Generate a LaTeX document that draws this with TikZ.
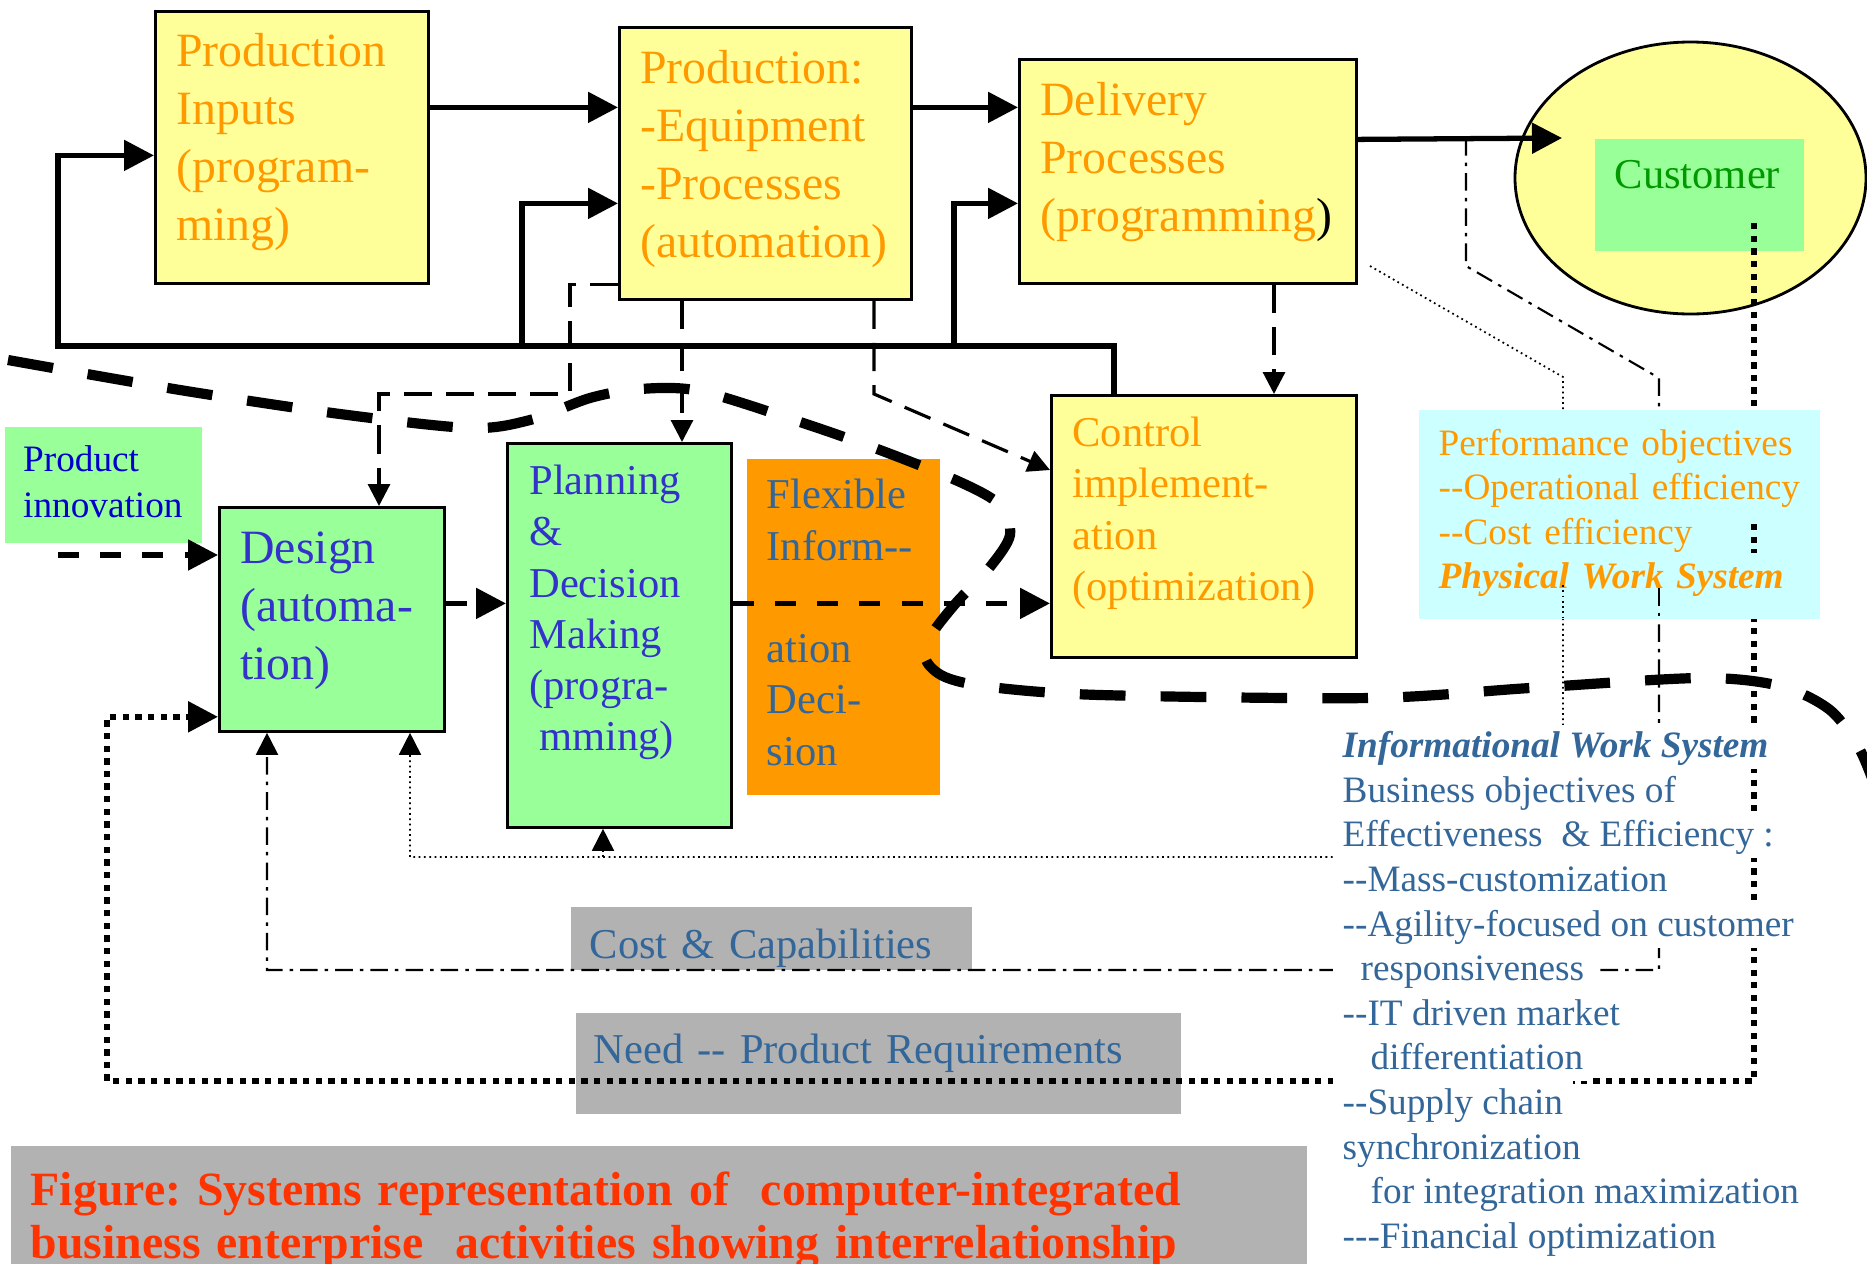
\documentclass[tikz,border=0pt]{standalone}
\usepackage{fontspec}
\newfontfamily\tnr{Liberation Serif}
\usepackage{tikz}
\usetikzlibrary{shapes.geometric}
\usetikzlibrary{arrows.meta, calc}
\usetikzlibrary{positioning}
\definecolor{boxyellow}{HTML}{FFFF99}
\definecolor{boxgreen}{HTML}{99FF99}
\definecolor{boxcyan}{HTML}{CCFFFF}
\definecolor{boxorange}{HTML}{FF9900}
\definecolor{boxgray}{HTML}{B2B2B2}
\definecolor{txtorange}{HTML}{FF9900}
\definecolor{txtblue}{HTML}{3333CC}
\definecolor{txtnavy}{HTML}{0000CC}
\definecolor{txtsteel}{HTML}{336699}
\definecolor{txtgreen}{HTML}{009900}
\definecolor{txtred}{HTML}{FF3300}
\frenchspacing

\begin{document}
\begin{tikzpicture}[
  flat/.style={align=left, inner ysep=0pt, anchor=north west},
  box/.style={flat, draw=black, line width=0.8pt},
  ybox/.style={box, fill=boxyellow, text=txtorange},
  gbox/.style={box, fill=boxgreen, text=txtblue},
  fbig/.style={font=\tnr\fontsize{13.6}{16.5}\selectfont},
  fmid/.style={font=\tnr\fontsize{12.1}{14.6}\selectfont},
  infoline/.style={anchor=base west, fill=white, text=txtsteel,
    font=\tnr\fontsize{10.6}{12.6}\selectfont, inner xsep=0.1cm, inner ysep=0pt,
    text height=0.33cm, text depth=0.115cm},
  thickline/.style={line width=1.5pt},
  dashline/.style={line width=1.5pt, dash pattern=on 6pt off 6pt},
  needline/.style={line width=1.6pt, dash pattern=on 1.8pt off 1.8pt},
  medline/.style={line width=0.9pt, dash pattern=on 8pt off 4pt},
  costline/.style={line width=0.6pt, dash pattern=on 5pt off 2pt on 1pt off 2pt},
  capline/.style={line width=0.5pt, dash pattern=on 0.5pt off 1pt},
  bigdash/.style={line width=2.9pt, dash pattern=on 13pt off 10pt},
  bigtip/.style={-{Triangle[length=3mm, width=3mm]}},
  smalltip/.style={-{Triangle[length=2.2mm, width=2.2mm]}}
]
\useasboundingbox (0,0) rectangle (18.67,-12.64);

% --- Blocchi ---
\node[ybox, fbig, text width=2.31cm, inner xsep=0.21cm, text height=0.555cm, text depth=2.165cm]
  (inputs) at (1.54,-0.10) {Production\\Inputs\\(program-\\ming)};
\node[ybox, fbig, text width=2.50cm, inner xsep=0.21cm, text height=0.56cm, text depth=2.16cm]
  (prod) at (6.18,-0.26) {Production:\\-Equipment\\-Processes\\(automation)};
\node[ybox, fbig, text width=2.95cm, inner xsep=0.21cm, text height=0.56cm, text depth=1.68cm]
  (dlv) at (10.18,-0.58) {Delivery\\Processes\\(programming\textcolor{black}{)}};
\node[ybox, fmid, text width=2.63cm, inner xsep=0.21cm, text height=0.51cm, text depth=2.11cm]
  (ctrl) at (10.50,-3.94) {Control\\implement-\\ation\\(optimization)};
\node[gbox, fbig, text width=1.83cm, inner xsep=0.21cm, text height=0.56cm, text depth=1.68cm]
  (design) at (2.18,-5.06) {Design\\(automa-\\tion)};
\node[gbox, fmid, text width=1.80cm, inner xsep=0.22cm, text height=0.51cm, text depth=3.33cm]
  (plan) at (5.06,-4.42) {Planning\\\&\\Decision\\Making\\(progra-\\\hspace*{0.1cm}mming)};
\node[flat, fill=boxorange, text=txtsteel, fmid, text width=1.53cm, inner xsep=0.20cm, text height=0.50cm, text depth=2.86cm]
  (flex) at (7.46,-4.58) {Flexible\\Inform--\\\mbox{}\\ation\\Deci-\\sion};
\node[flat, fill=boxgreen, text=txtnavy, font=\tnr\fontsize{10.6}{13.1}\selectfont, text width=1.60cm, inner xsep=0.185cm, text height=0.45cm, text depth=0.71cm]
  (innov) at (0.04,-4.26) {Product\\innovation};

% --- Cliente ---
\node[ellipse, draw=black, line width=0.8pt, fill=boxyellow, minimum width=3.51cm, minimum height=2.72cm, inner sep=0pt]
  (custell) at (16.905,-1.78) {};
\node[flat, fill=boxgreen, text=txtgreen, fmid, text width=1.69cm, inner xsep=0.20cm, text height=0.50cm, text depth=0.62cm]
  (custbox) at (15.94,-1.38) {Customer};

% --- Etichette grigie ---
\node[flat, fill=boxgray, text=txtsteel, fmid, text width=3.63cm, inner xsep=0.19cm, text height=0.52cm, text depth=0.11cm]
  (cost) at (5.70,-9.06) {Cost \& Capabilities};
\node[flat, fill=boxgray, text=txtsteel, fmid, text width=5.69cm, inner xsep=0.18cm, text height=0.51cm, text depth=0.50cm]
  (need) at (5.75,-10.12) {Need -- Product Requirements};
\node[flat, fill=boxgray, text=txtred, font=\tnr\bfseries\fontsize{13.6}{15.1}\selectfont, text width=12.56cm, inner xsep=0.20cm, text height=0.60cm, text depth=1.00cm]
  (caption) at (0.10,-11.45) {Figure: Systems representation of~~computer-integrated\\business enterprise~~activities showing interrelationship};

% --- Frecce piene ---
\coordinate (a1) at ([yshift=4mm]inputs.east);
\coordinate (a2) at ([yshift=5.6mm]prod.east);
\coordinate (a3) at ([yshift=3.2mm]dlv.east);
\draw[thickline, bigtip] (a1) -- (a1 -| prod.west);
\draw[thickline, bigtip] (a2) -- (a2 -| dlv.west);
\draw[thickline, bigtip] (a3) -- ([xshift=-3.2mm]custbox.north west);

% --- Retroazione ---
\coordinate (fb) at ([xshift=6.4mm]ctrl.north west);
\coordinate (busL) at (0.58,-3.46);
\coordinate (busA) at (5.22,-3.46);
\coordinate (busB) at (9.54,-3.46);
\draw[thickline, bigtip] (fb) |- (busL) |- ([yshift=-0.8mm]inputs.west);
\draw[thickline, bigtip] (busA) |- ([yshift=-4mm]prod.west);
\draw[thickline, bigtip] (busB) |- ([yshift=-3.2mm]dlv.west);

% --- Frecce tratteggiate ---
\coordinate (d0) at (0.58,-5.55);
\coordinate (d1) at ([yshift=1.6mm]design.east);
\coordinate (d2) at ([yshift=3.2mm]plan.east);
\draw[dashline, bigtip] (d0) -- (d0 -| design.west);
\draw[dashline, bigtip] (d1) -- (d1 -| plan.west);
\draw[dashline, bigtip] (d2) -- (d2 -| ctrl.west);

\coordinate (m1) at ([xshift=6.4mm]prod.south west);
\coordinate (m2) at ([yshift=1.6mm]prod.south west);
\coordinate (m3) at (5.70,-3.94);
\coordinate (m4) at ([xshift=2.56cm]prod.south west);
\coordinate (m5) at (8.74,-3.94);
\coordinate (m6) at ([xshift=2.56cm]dlv.south west);
\draw[medline, smalltip] (m1) -- (m1 |- plan.north);
\draw[medline, smalltip] (m2) -| (m3) -| ([xshift=1.61cm]design.north west);
\draw[medline, smalltip] (m4) -- (m5) -- ([yshift=-7.6mm]ctrl.north west);
\draw[medline, smalltip] (m6) -- (m6 |- ctrl.north);

% --- Ritorni dal cliente ---
\coordinate (n0) at (17.54,-2.23);
\coordinate (n1) at (1.07,-10.81);
\draw[needline, bigtip] (n0) |- (n1) |- ([yshift=1.6mm]design.south west);

\coordinate (c0) at (14.66,-1.38);
\coordinate (c1) at (14.66,-2.66);
\coordinate (c2) at (16.59,-3.78);
\coordinate (c3) at (2.67,-9.70);
\draw[costline, smalltip] (c0) -- (c1) -- (c2) |- (c3) -- (c3 |- design.south);

\coordinate (t0) at (13.70,-2.66);
\coordinate (t1) at (15.63,-3.77);
\coordinate (t2) at (4.10,-8.57);
\coordinate (t3) at (6.03,-8.57);
\draw[capline, smalltip] (t0) -- (t1) |- (t2) -- (t2 |- design.south);
\draw[capline, smalltip] (t3) -- (t3 |- plan.south);

% --- Obiettivi di prestazione ---
\node[flat, fill=boxcyan, text=txtorange, font=\tnr\fontsize{10.6}{12.6}\selectfont, text width=3.61cm, inner xsep=0.20cm, text height=0.46cm, text depth=1.63cm]
  (perf) at (14.18,-4.09) {\mbox{Performance objectives}\\\mbox{--Operational efficiency}\\\mbox{--Cost efficiency}\\\mbox{\textbf{\textit{Physical Work System}}}};
\draw[capline] (15.63,-5.85) -- (15.63,-6.18);
\draw[costline] (16.59,-5.88) -- (16.59,-6.18);
\draw[needline] (17.54,-5.24) -- (17.54,-5.53);

% --- Confine tra i sistemi ---
\draw[bigdash] plot[smooth] coordinates {
  (0.08,-3.60) (1.80,-3.90) (3.40,-4.14) (4.70,-4.28) (5.30,-4.20) (5.90,-3.98)
  (6.40,-3.89) (7.00,-3.91) (8.00,-4.22) (8.80,-4.50) (9.60,-4.82) (10.00,-5.05)
  (10.10,-5.35) (9.90,-5.67) (9.56,-6.03) (9.30,-6.37) (9.26,-6.60) (9.45,-6.77)
  (9.90,-6.87) (11.00,-6.95) (13.70,-6.98) (15.30,-6.88) (17.00,-6.78) (17.80,-6.86)
  (18.30,-7.10) (18.60,-7.50) (18.80,-8.00)};

% --- Sistema informativo ---
\foreach \row [count=\i] in {
  {\textbf{\textit{Informational Work System}}},
  Business objectives of,
  Effectiveness~~\& Efficiency :,
  --Mass-customization,
  --Agility-focused on customer,
  \hspace*{0.18cm}responsiveness,
  --IT driven market,
  \hspace*{0.28cm}differentiation,
  --Supply chain,
  synchronization,
  \hspace*{0.28cm}for integration maximization,
  ---Financial optimization}{
  \node[infoline] (info\i) at (13.32,{-7.576-0.446*(\i-1)}) {\row};
}

\end{tikzpicture}
\end{document}
